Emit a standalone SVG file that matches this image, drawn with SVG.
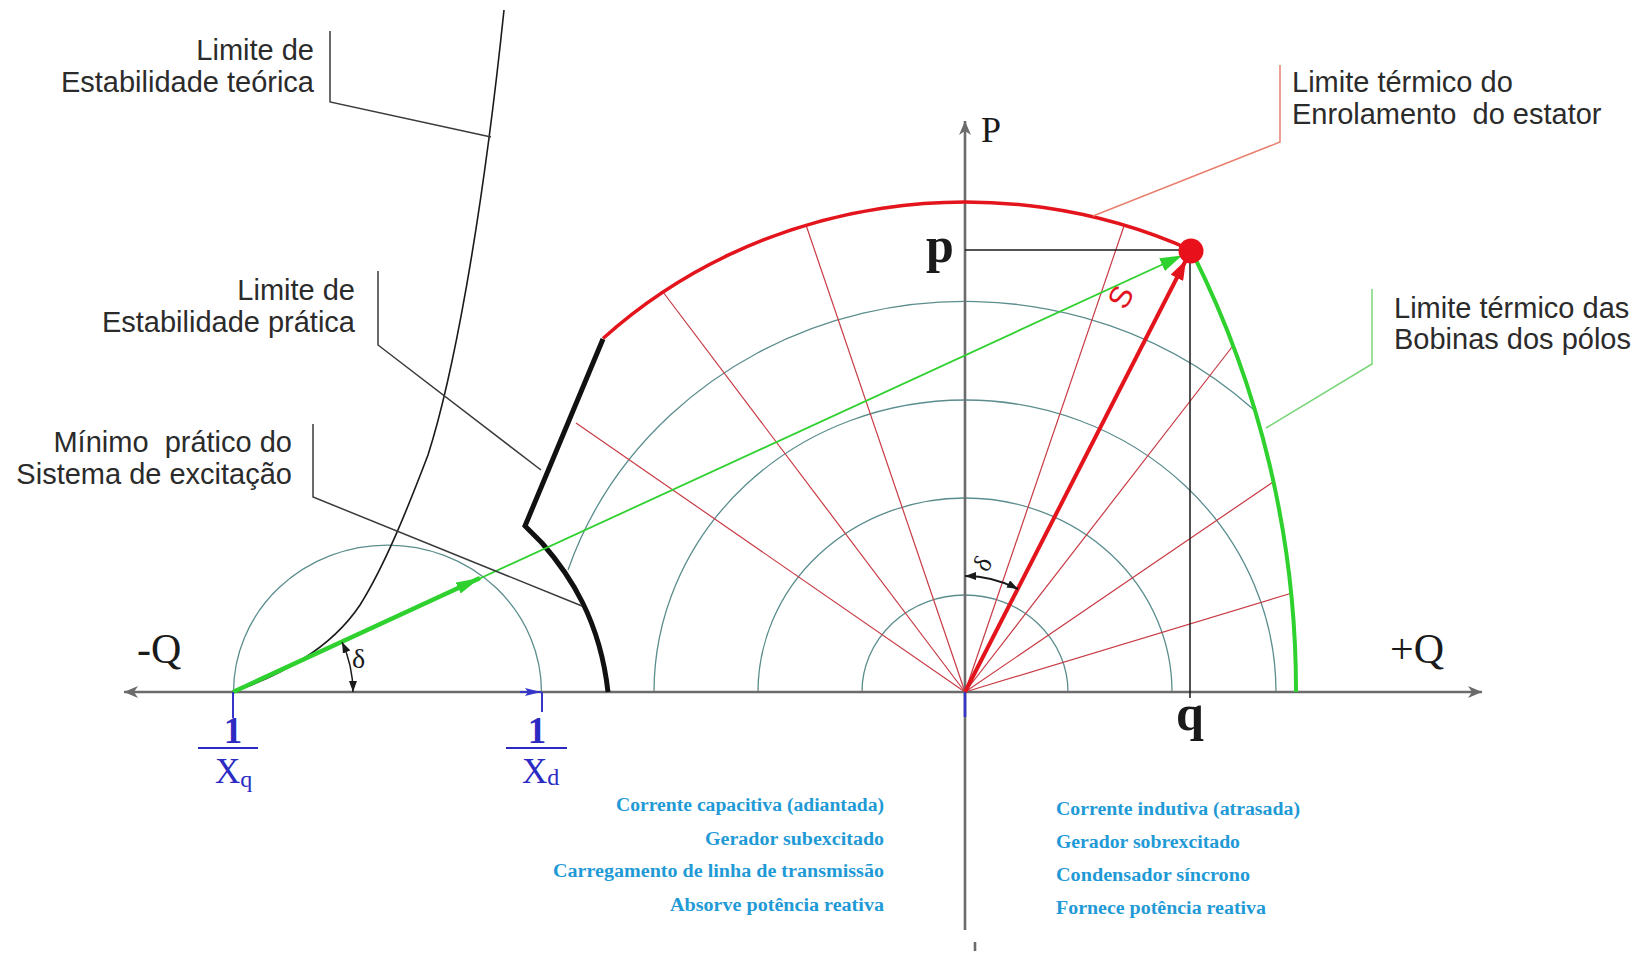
<svg xmlns="http://www.w3.org/2000/svg" width="1648" height="954" viewBox="0 0 1648 954">
<defs>
<style>
.ax{stroke:#6b6b6b;stroke-width:2.6;fill:none}
.grid{stroke:#5b8d8d;stroke-width:1.3;fill:none}
.rad{stroke:#c83a44;stroke-width:1.2;fill:none}
.ld{stroke:#3a3a3a;stroke-width:1.5;fill:none}
.lbl{font-family:"Liberation Sans",Arial,sans-serif;font-size:29px;fill:#2b2b2b}
.blue{font-family:"Liberation Serif","Times New Roman",serif;font-size:18px;font-weight:bold;fill:#1f9ad6}
.ser{font-family:"Liberation Serif","Times New Roman",serif;fill:#1a1a1a}
.frac{font-family:"Liberation Serif","Times New Roman",serif;fill:#2b2bc4}
</style>
<marker id="axArr" markerUnits="userSpaceOnUse" markerWidth="14" markerHeight="12" refX="14" refY="6" orient="auto-start-reverse"><path d="M0,0 L14,6 L0,12 L4,6 z" fill="#6b6b6b"/></marker>
<marker id="gArrThick" markerUnits="userSpaceOnUse" markerWidth="24" markerHeight="12" refX="24" refY="6" orient="auto"><path d="M0,0 L24,6 L0,12 z" fill="#2fd12f"/></marker>
<marker id="gArr" markerUnits="userSpaceOnUse" markerWidth="22" markerHeight="14" refX="22" refY="7" orient="auto"><path d="M0,0 L22,7 L0,14 z" fill="#2fd12f"/></marker>
<marker id="rArr" markerUnits="userSpaceOnUse" markerWidth="20" markerHeight="14" refX="20" refY="7" orient="auto"><path d="M0,0 L20,7 L0,14 z" fill="#e3141c"/></marker>
<marker id="dArr" markerUnits="userSpaceOnUse" markerWidth="11" markerHeight="8" refX="11" refY="4" orient="auto-start-reverse"><path d="M0,0 L11,4 L0,8 z" fill="#1a1a1a"/></marker>
<marker id="bArr" markerUnits="userSpaceOnUse" markerWidth="16" markerHeight="8" refX="16" refY="4" orient="auto"><path d="M0,0 L16,4 L0,8 L3,4 z" fill="#3535c8"/></marker>
</defs>
<rect width="1648" height="954" fill="#ffffff"/>

<g id="grid-arcs">
<path class="grid" d="M862,692 A103,97 0 0 1 1068,692"/>
<path class="grid" d="M758,692 A207,194 0 0 1 1172,692"/>
<path class="grid" d="M654,692 A311,292 0 0 1 1276,692"/>
<path class="grid" d="M568,570 A418,391 0 0 1 1253,409"/>
<path class="grid" d="M233.5,692 A154,147 0 0 1 541.5,692"/>
</g>

<g id="radial-lines">
<line class="rad" x1="965" y1="692" x2="576" y2="423"/>
<line class="rad" x1="965" y1="692" x2="663" y2="292"/>
<line class="rad" x1="965" y1="692" x2="806" y2="225"/>
<line class="rad" x1="965" y1="692" x2="965" y2="202"/>
<line class="rad" x1="965" y1="692" x2="1124" y2="226"/>
<line class="rad" x1="965" y1="692" x2="1232" y2="347"/>
<line class="rad" x1="965" y1="692" x2="1273" y2="482"/>
<line class="rad" x1="965" y1="692" x2="1292" y2="593"/>
</g>

<g id="axes">
<line class="ax" x1="124" y1="692" x2="1482" y2="692" marker-start="url(#axArr)" marker-end="url(#axArr)"/>
<line class="ax" x1="965" y1="930" x2="965" y2="121" marker-end="url(#axArr)"/>
<line class="ax" x1="975" y1="942" x2="975" y2="951"/>
<line x1="965" y1="692" x2="965" y2="717" stroke="#3535c8" stroke-width="2.6"/>
</g>

<g id="limit-curves">
<path id="stator-limit" d="M603,338.5 A523,490 0 0 1 1191,250" fill="none" stroke="#e3141c" stroke-width="3.5"/>
<path id="field-limit" d="M1191,250 A975,975 0 0 1 1296,692" fill="none" stroke="#2fd12f" stroke-width="4"/>
<path id="practical-stability" d="M603,339 L525,526 L542,543 C570,575 600,620 608,692" fill="none" stroke="#111" stroke-width="5" stroke-linejoin="miter"/>
<path id="theoretical-stability" d="M233,692 C280,675 330,650 360,605 C385,565 407,510 428,455 C452,380 481,230 504,10" fill="none" stroke="#1a1a1a" stroke-width="1.6"/>
</g>

<g id="operating-point">
<line x1="965" y1="250" x2="1191" y2="250" stroke="#1a1a1a" stroke-width="1.5"/>
<line x1="1190" y1="250" x2="1190" y2="698" stroke="#1a1a1a" stroke-width="1.5"/>
</g>

<g id="vectors">
<line x1="233" y1="692" x2="480" y2="578" stroke="#2fd12f" stroke-width="4.5" marker-end="url(#gArrThick)"/>
<line x1="470" y1="583" x2="1182" y2="255.5" stroke="#2fd12f" stroke-width="1.8" marker-end="url(#gArr)"/>
<line x1="965" y1="692" x2="1186" y2="260" stroke="#e3141c" stroke-width="4" marker-end="url(#rArr)"/>
<circle cx="1191" cy="251" r="12.5" fill="#e8101a"/>
<line x1="233" y1="692" x2="233" y2="718" stroke="#3535c8" stroke-width="2"/>
<line x1="542" y1="692" x2="542" y2="712" stroke="#3535c8" stroke-width="2"/>
<line x1="520" y1="692" x2="541" y2="692" stroke="#3535c8" stroke-width="2" marker-end="url(#bArr)"/>
<path d="M353,692 A120,120 0 0 0 342,642" fill="none" stroke="#1a1a1a" stroke-width="1.5" marker-start="url(#dArr)" marker-end="url(#dArr)"/>
<path d="M965,576 A116,116 0 0 1 1018,589" fill="none" stroke="#1a1a1a" stroke-width="2" marker-start="url(#dArr)" marker-end="url(#dArr)"/>
</g>

<g id="leaders">
<path class="ld" d="M330,31 L330,102 L491,137"/>
<path class="ld" d="M378,271 L378,345 L541,470"/>
<path class="ld" d="M313,424 L313,497 L582,606"/>
<path d="M1093,216 L1280,142 L1280,65" fill="none" stroke="#e88070" stroke-width="1.5"/>
<path d="M1266,428 L1372,364 L1372,289" fill="none" stroke="#7ad67a" stroke-width="1.5"/>
</g>

<g id="label-teorica">
<text class="lbl" x="314" y="60" text-anchor="end">Limite de</text>
<text class="lbl" x="314" y="92" text-anchor="end">Estabilidade teórica</text>
</g>
<g id="label-pratica">
<text class="lbl" x="355" y="300" text-anchor="end">Limite de</text>
<text class="lbl" x="355" y="332" text-anchor="end">Estabilidade prática</text>
</g>
<g id="label-minimo">
<text class="lbl" x="292" y="452" text-anchor="end" xml:space="preserve">Mínimo  prático do</text>
<text class="lbl" x="292" y="484" text-anchor="end">Sistema de excitação</text>
</g>
<g id="label-estator">
<text class="lbl" x="1292" y="92">Limite térmico do</text>
<text class="lbl" x="1292" y="124" xml:space="preserve">Enrolamento  do estator</text>
</g>
<g id="label-polos">
<text class="lbl" x="1394" y="318">Limite térmico das</text>
<text class="lbl" x="1394" y="349">Bobinas dos pólos</text>
</g>

<g id="axis-labels">
<text class="ser" x="981" y="142" font-size="36">P</text>
<text class="ser" x="137" y="663" font-size="42">-Q</text>
<text class="ser" x="1390" y="663" font-size="42">+Q</text>
<text class="ser" x="926" y="262" font-size="50" font-weight="bold">p</text>
<text class="ser" x="1176" y="730" font-size="50" font-weight="bold">q</text>
<text x="1123" y="298" font-family="'Liberation Sans',Arial,sans-serif" font-size="31" fill="#e3141c" text-anchor="middle" dominant-baseline="middle" transform="rotate(-63 1123 298)">S</text>
<text class="ser" x="352" y="668" font-size="28">δ</text>
<text class="ser" x="985" y="565" font-size="26" text-anchor="middle" dominant-baseline="middle" transform="rotate(-60 985 565)">δ</text>
</g>

<g id="label-xq">
<text class="frac" x="233" y="743" font-size="37" font-weight="bold" text-anchor="middle">1</text>
<line x1="198" y1="748" x2="258" y2="748" stroke="#2b2bc4" stroke-width="2"/>
<text class="frac" x="215" y="783" font-size="35">X<tspan font-size="24" dy="4">q</tspan></text>
</g>
<g id="label-xd">
<text class="frac" x="537" y="743" font-size="37" font-weight="bold" text-anchor="middle">1</text>
<line x1="506" y1="748" x2="567" y2="748" stroke="#2b2bc4" stroke-width="2"/>
<text class="frac" x="522" y="783" font-size="35">X<tspan font-size="24" dy="2">d</tspan></text>
</g>

<g id="notes-left">
<text class="blue" x="884" y="811" text-anchor="end" textLength="268" lengthAdjust="spacingAndGlyphs">Corrente capacitiva (adiantada)</text>
<text class="blue" x="884" y="845" text-anchor="end" textLength="179" lengthAdjust="spacingAndGlyphs">Gerador subexcitado</text>
<text class="blue" x="884" y="877" text-anchor="end" textLength="331" lengthAdjust="spacingAndGlyphs">Carregamento de linha de transmissão</text>
<text class="blue" x="884" y="911" text-anchor="end" textLength="214" lengthAdjust="spacingAndGlyphs">Absorve potência reativa</text>
</g>
<g id="notes-right">
<text class="blue" x="1056" y="815" textLength="244" lengthAdjust="spacingAndGlyphs">Corrente indutiva (atrasada)</text>
<text class="blue" x="1056" y="848" textLength="184" lengthAdjust="spacingAndGlyphs">Gerador sobrexcitado</text>
<text class="blue" x="1056" y="881" textLength="194" lengthAdjust="spacingAndGlyphs">Condensador síncrono</text>
<text class="blue" x="1056" y="914" textLength="210" lengthAdjust="spacingAndGlyphs">Fornece potência reativa</text>
</g>
</svg>
